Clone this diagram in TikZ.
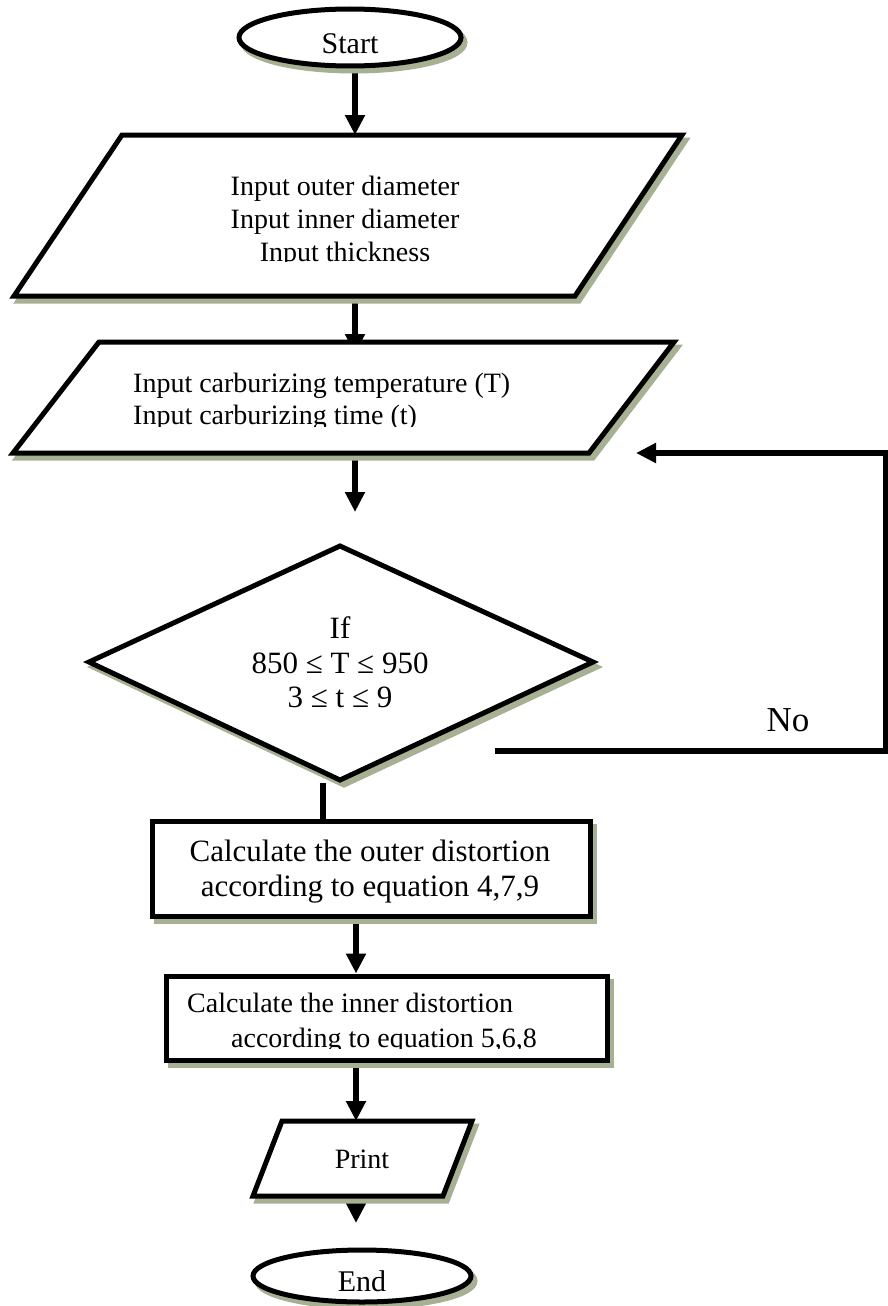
\documentclass[tikz,border=0pt]{standalone}
\usepackage{fontspec}
\setmainfont{Liberation Serif}
\usetikzlibrary{arrows.meta,shadows,shapes.geometric}
\definecolor{shc}{RGB}{166,176,146}
\pgfdeclarelayer{bg}
\pgfdeclarelayer{conn}
\pgfsetlayers{bg,conn,main}
\tikzset{
  fshape/.style={draw=black, line width=5pt, fill=white, line join=miter,
    general shadow={shadow xshift=4pt, shadow yshift=-5pt, fill=shc, draw=shc, line width=5pt}},
  arr/.style={line width=6pt, -{Triangle[length=20pt,width=19pt]}},
  ln/.style={line width=6pt},
  txt/.style={anchor=base, inner sep=0pt, font=\fontsize{28}{33}\selectfont},
  txtl/.style={txt, anchor=base west},
  bigtxt/.style={txt, font=\fontsize{31}{36}\selectfont},
}
\begin{document}
\begin{tikzpicture}[x=1pt,y=-1pt]
\useasboundingbox (0,0) rectangle (888,1306);
\begin{pgfonlayer}{bg}
\fill[white] (0,0) rectangle (888,1306);
\end{pgfonlayer}

% helper coordinates
\coordinate (ax) at (355,0);
\coordinate (bx) at (356,0);

% ---- shapes ----
\node[fshape, ellipse, minimum width=222pt, minimum height=57pt, inner sep=0pt] (start) at (350,37.5) {};

\path[fshape] (122,135) coordinate (p1tl) -- (682,135) coordinate (p1tr)
   -- (575,296) coordinate (p1br) -- (14,296) coordinate (p1bl) -- cycle;
\coordinate (p1top) at (355,135);
\coordinate (p1bot) at (355,296);

\path[fshape] (99,342) coordinate (p2tl) -- (674,342) coordinate (p2tr)
   -- (589,453) coordinate (p2br) -- (13,453) coordinate (p2bl) -- cycle;
\coordinate (p2top) at (355,354);
\coordinate (p2bot) at (355,453);
\coordinate (dtip) at (355,512);

\path[fshape] (340,546) coordinate (dtop) -- (593,662) coordinate (dright)
   -- (340,780) coordinate (dbottom) -- (89,662) coordinate (dleft) -- cycle;
\coordinate (dbot) at (323,783);

\node[fshape, rectangle, minimum width=438pt, minimum height=95pt, inner sep=0pt] (box1) at (371,868.5) {};
\node[fshape, rectangle, minimum width=441pt, minimum height=84pt, inner sep=0pt] (box2) at (386.5,1018) {};

\path[fshape] (282,1121) coordinate (prtl) -- (472,1121) coordinate (prtr)
   -- (443,1196) coordinate (prbr) -- (253,1196) coordinate (prbl) -- cycle;
\coordinate (prtop) at (356,1121);
\coordinate (prbot) at (356,1196);
\coordinate (etip) at (356,1223);

\node[fshape, ellipse, minimum width=218pt, minimum height=52pt, inner sep=0pt] (end) at (362,1276) {};

\coordinate (nos) at (495,751);
\coordinate (nocorner) at (885.5,453);
\coordinate (noe) at (636,453);

% ---- connectors ----
\begin{pgfonlayer}{conn}
\draw[arr] (start.south -| ax) -- (p1top);
\draw[arr] (p1bot) -- (p2top);
\draw[arr] (p2bot) -- (dtip);
\draw[arr, line join=miter] (nos) -| (nocorner) -- (noe);
\draw[ln] (dbot) -- (box1.north -| dbot);
\draw[arr] (box1.south -| bx) -- (box2.north -| bx);
\draw[arr] (box2.south -| bx) -- (prtop);
\draw[arr] (prbot) -- (etip);
\end{pgfonlayer}

% ---- texts ----
\node[txt, font=\fontsize{30}{36}\selectfont] (startT) at (350,53) {Start};

\node[txt] (t1a) at (345,195) {Input outer diameter};
\node[txt] (t1b) at (345,228) {Input inner diameter};
\begin{scope}
\clip (0,200) rectangle (888,261.5);
\node[txt] (t1c) at (345,261) {Input thickness};
\end{scope}

\node[txtl] (t2a) at (133,392) {Input carburizing temperature (T)};
\begin{scope}
\clip (0,395) rectangle (888,426);
\node[txtl] (t2b) at (133,424) {Input carburizing time (t)};
\end{scope}

\node[bigtxt] (d1) at (340,638) {If};
\node[bigtxt] (d2) at (340,673) {850 ≤ T ≤ 950};
\node[bigtxt] (d3) at (340,707) {3 ≤ t ≤ 9};

\node[txt, font=\fontsize{35}{40}\selectfont] (no) at (788,731) {No};

\node[bigtxt] (b1a) at (370,861) {Calculate the outer distortion};
\node[bigtxt] (b1b) at (370,896) {according to equation 4,7,9};

\node[txtl] (b2a) at (187,1012) {Calculate the inner distortion};
\begin{scope}
\clip (0,1015) rectangle (888,1048.5);
\node[txtl] (b2b) at (231,1047) {according to equation 5,6,8};
\end{scope}

\node[txt] (prT) at (362,1168) {Print};
\node[txt, font=\fontsize{30}{36}\selectfont] (endT) at (362,1291) {End};
\end{tikzpicture}
\end{document}
